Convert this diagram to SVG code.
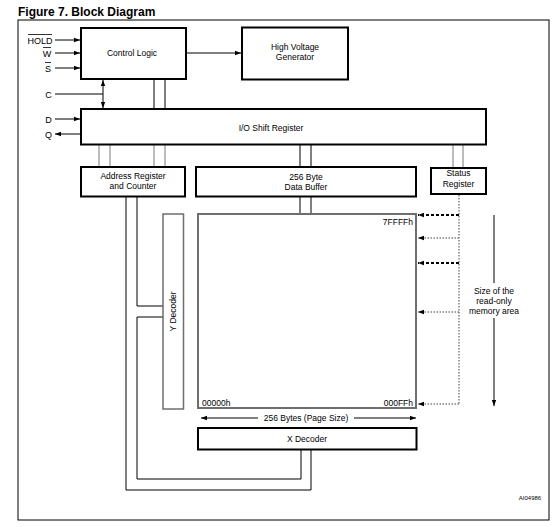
<svg xmlns="http://www.w3.org/2000/svg" width="554" height="527" viewBox="0 0 554 527">
<style>
text{font-family:"Liberation Sans",Arial,sans-serif;fill:#000}
.lbl{font-size:8.5px;text-anchor:middle}
.pin{font-size:9px;text-anchor:middle}
.box{fill:#fff;stroke:#000;stroke-width:2}
.gbox{fill:#fff;stroke:#6e6e6e;stroke-width:2}
.ln{fill:none;stroke:#000;stroke-width:1}
.gl{fill:none;stroke:#7a7a7a;stroke-width:1}
.dk{fill:none;stroke:#000;stroke-width:2;stroke-dasharray:3 2}
.dg{fill:none;stroke:#808080;stroke-width:1.5;stroke-dasharray:1.5 1.5}
</style>
<defs>
<marker id="ah" viewBox="0 0 6 6" refX="6" refY="3" markerWidth="6" markerHeight="6" markerUnits="userSpaceOnUse" orient="auto-start-reverse">
<path d="M0,0.8 L6,3 L0,5.2 Z" fill="#000"/>
</marker>
</defs>
<rect width="554" height="527" fill="#fff"/>
<text x="18" y="16" style="font-size:12px;font-weight:bold">Figure 7. Block Diagram</text>
<rect x="18" y="20" width="531" height="500" fill="none" stroke="#000" stroke-width="1"/>

<g id="connectors">
<line class="ln" x1="55" y1="40" x2="80" y2="40" marker-end="url(#ah)"/>
<line class="ln" x1="55" y1="53" x2="80" y2="53" marker-end="url(#ah)"/>
<line class="ln" x1="55" y1="68" x2="80" y2="68" marker-end="url(#ah)"/>
<line class="ln" x1="55" y1="94" x2="103" y2="94"/>
<line class="ln" x1="103" y1="80" x2="103" y2="108" marker-start="url(#ah)" marker-end="url(#ah)"/>
<line class="ln" x1="55" y1="119" x2="80" y2="119" marker-end="url(#ah)"/>
<line class="ln" x1="80" y1="134" x2="55" y2="134" marker-end="url(#ah)"/>
<line class="ln" x1="187" y1="53" x2="241" y2="53" marker-end="url(#ah)"/>
<line class="ln" x1="154" y1="80" x2="154" y2="109"/>
<line class="ln" x1="165" y1="80" x2="165" y2="109"/>
<line class="gl" x1="99" y1="145" x2="99" y2="167"/>
<line class="gl" x1="110" y1="145" x2="110" y2="167"/>
<line class="gl" x1="154" y1="145" x2="154" y2="167"/>
<line class="gl" x1="165" y1="145" x2="165" y2="167"/>
<line class="ln" x1="300" y1="145" x2="300" y2="167"/>
<line class="ln" x1="311" y1="145" x2="311" y2="167"/>
<line class="gl" x1="453" y1="145" x2="453" y2="168"/>
<line class="gl" x1="463" y1="145" x2="463" y2="168"/>
<line class="ln" x1="300" y1="197" x2="300" y2="214"/>
<line class="ln" x1="311" y1="197" x2="311" y2="214"/>
<polyline class="ln" points="137,197 137,306 163,306"/>
<polyline class="ln" points="163,317 137,317 137,479 301,479 301,450"/>
<polyline class="ln" points="126,197 126,490 311,490 311,450"/>
<line class="dg" x1="459" y1="195" x2="459" y2="405"/>
<line class="dk" x1="459" y1="215" x2="418" y2="215" marker-end="url(#ah)"/>
<line class="dg" x1="459" y1="238" x2="418" y2="238" marker-end="url(#ah)"/>
<line class="dk" x1="459" y1="263" x2="418" y2="263" marker-end="url(#ah)"/>
<line class="dg" x1="459" y1="312" x2="418" y2="312" marker-end="url(#ah)"/>
<line class="dg" x1="459" y1="404" x2="418" y2="404" marker-end="url(#ah)"/>
<line class="ln" x1="494" y1="215" x2="494" y2="283"/>
<line class="ln" x1="494" y1="318" x2="494" y2="406" marker-end="url(#ah)"/>
<line class="ln" x1="258" y1="418" x2="201" y2="418" marker-end="url(#ah)"/>
<line class="ln" x1="354" y1="418" x2="416" y2="418" marker-end="url(#ah)"/>
</g>

<g id="pins">
<text class="pin" x="40" y="43.5">HOLD</text>
<line x1="28" y1="34.5" x2="52" y2="34.5" stroke="#000" stroke-width="0.8"/>
<text class="pin" x="47" y="56.5">W</text>
<line x1="43" y1="47.5" x2="51" y2="47.5" stroke="#000" stroke-width="0.8"/>
<text class="pin" x="48" y="71.5">S</text>
<line x1="45" y1="62.5" x2="51" y2="62.5" stroke="#000" stroke-width="0.8"/>
<text class="pin" x="48.5" y="97.5">C</text>
<text class="pin" x="48.5" y="122.5">D</text>
<text class="pin" x="48.5" y="137.5">Q</text>
</g>

<g id="control-logic">
<rect class="box" x="81" y="28" width="105" height="51"/>
<text class="lbl" x="132" y="56">Control Logic</text>
</g>
<g id="hv-generator">
<rect class="box" x="242" y="27.5" width="106" height="52"/>
<text class="lbl" x="295" y="49.5">High Voltage</text>
<text class="lbl" x="295" y="60">Generator</text>
</g>
<g id="io-shift-register">
<rect class="box" x="81" y="109" width="405" height="35.5"/>
<text class="lbl" x="271" y="130.5">I/O Shift Register</text>
</g>
<g id="address-register">
<rect class="box" x="81" y="167" width="104" height="29.5"/>
<text class="lbl" x="133" y="179">Address Register</text>
<text class="lbl" x="133" y="188.5">and Counter</text>
</g>
<g id="data-buffer">
<rect class="box" x="196" y="167" width="220" height="29.5"/>
<text class="lbl" x="306" y="180">256 Byte</text>
<text class="lbl" x="306" y="189.5">Data Buffer</text>
</g>
<g id="status-register">
<rect class="box" x="431" y="168" width="55" height="26"/>
<text class="lbl" x="458.5" y="176">Status</text>
<text class="lbl" x="458.5" y="187">Register</text>
</g>
<g id="y-decoder">
<rect x="163" y="214" width="20.5" height="195" fill="#fff" stroke="#6e6e6e" stroke-width="1.5"/>
<text class="lbl" x="0" y="0" transform="translate(176,311.5) rotate(-90)">Y Decoder</text>
</g>
<g id="memory-array">
<rect class="gbox" x="198" y="214" width="218" height="194"/>
<text x="413" y="224.5" style="font-size:8.5px;text-anchor:end">7FFFFh</text>
<text x="202" y="405.5" style="font-size:8.5px">00000h</text>
<text x="413" y="405.5" style="font-size:8.5px;text-anchor:end">000FFh</text>
</g>
<g id="page-size">
<text class="lbl" x="306" y="421">256 Bytes (Page Size)</text>
</g>
<g id="x-decoder">
<rect class="box" x="198" y="428" width="218.5" height="21.5"/>
<text class="lbl" x="307" y="442">X Decoder</text>
</g>
<g id="size-label">
<text class="lbl" x="494" y="293.5">Size of the</text>
<text class="lbl" x="494" y="303.5">read-only</text>
<text class="lbl" x="494" y="314">memory area</text>
</g>
<text x="530" y="500" style="font-size:6px;text-anchor:middle">AI04986</text>
</svg>
